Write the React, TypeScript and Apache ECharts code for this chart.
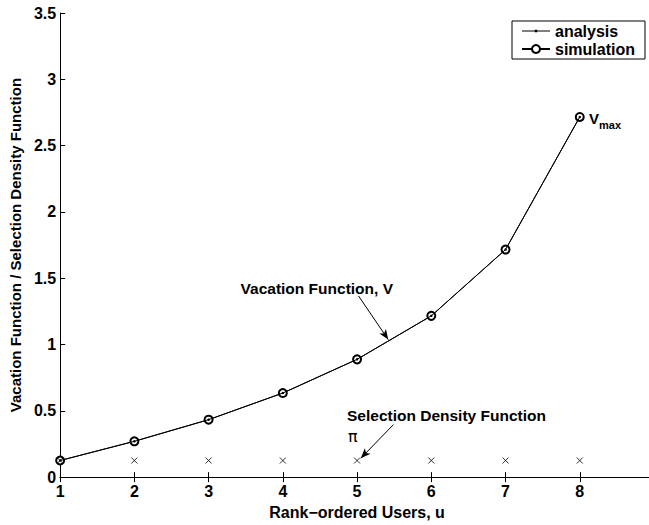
import React, { useEffect, useRef } from "react";
import * as echarts from "echarts";

const users = [1, 2, 3, 4, 5, 6, 7, 8];
const vacationAnalysis = [0.125, 0.27, 0.433, 0.634, 0.888, 1.216, 1.716, 2.716];
const vacationSimulation = [0.125, 0.27, 0.433, 0.634, 0.888, 1.216, 1.716, 2.716];
const selectionDensity = [0.125, 0.125, 0.125, 0.125, 0.125, 0.125, 0.125, 0.125];

const FONT = "'Liberation Sans', Arial, Helvetica, sans-serif";

export default function App() {
  const ref = useRef<HTMLDivElement>(null);
  useEffect(() => {
    if (!ref.current) return;
    const chart = echarts.init(ref.current, null, { renderer: "svg" });
    const pair = (ys: number[]) => users.map((u, i) => [u, ys[i]]);
    const axisCommon = {
      axisLine: { show: true, lineStyle: { color: "#000", width: 1 } },
      axisTick: { show: true, inside: true, length: 5, lineStyle: { color: "#000" } },
      splitLine: { show: false },
    };
    const bold = (size: number) => ({ fontFamily: FONT, fontWeight: "bold", fontSize: size, color: "#000" });
    chart.setOption({
      animation: false,
      backgroundColor: "#fff",
      textStyle: { fontFamily: FONT },
      grid: { left: 57, top: 13, width: 597, height: 469 },
      legend: {
        left: 512,
        top: 21,
        orient: "vertical",
        data: [
          { name: "analysis", icon: "path://M0,4.4H28V5.6H0Z M12.8,3.8H15.2V6.2H12.8Z" },
          { name: "simulation" },
        ],
        itemWidth: 28,
        itemHeight: 10,
        itemGap: 2,
        padding: [2, 10, 2, 9],
        borderColor: "#000",
        borderWidth: 1,
        borderRadius: 0,
        backgroundColor: "#fff",
        textStyle: bold(16),
      },
      xAxis: [
        {
          type: "value",
          min: 1,
          max: 9,
          interval: 1,
          position: "bottom",
          name: "Rank\u2212ordered Users, u",
          nameLocation: "middle",
          nameGap: 19,
          nameTextStyle: bold(16),
          axisLabel: { ...bold(16), margin: 6 },
          ...axisCommon,
        },
        {
          type: "value",
          min: 1,
          max: 9,
          interval: 1,
          position: "top",
          axisLabel: { show: false },
          ...axisCommon,
        },
      ],
      yAxis: [
        {
          type: "value",
          min: 0,
          max: 3.5,
          interval: 0.5,
          position: "left",
          name: "Vacation Function / Selection Density Function",
          nameLocation: "middle",
          nameGap: 30,
          nameTextStyle: bold(15),
          axisLabel: { ...bold(16), margin: 4 },
          ...axisCommon,
        },
        {
          type: "value",
          min: 0,
          max: 3.5,
          interval: 0.5,
          position: "right",
          axisLabel: { show: false },
          ...axisCommon,
        },
      ],
      series: [
        {
          name: "simulation",
          type: "line",
          data: pair(vacationSimulation),
          symbol: "emptyCircle",
          symbolSize: 8,
          itemStyle: { color: "#000", borderColor: "#000", borderWidth: 1 },
          lineStyle: { color: "#000", width: 1 },
          z: 3,
        },
        {
          name: "analysis",
          type: "line",
          data: pair(vacationAnalysis),
          symbol: "circle",
          symbolSize: 2.5,
          itemStyle: { color: "#000" },
          lineStyle: { color: "#000", width: 1 },
          z: 4,
          markLine: {
            silent: true,
            symbol: ["none", "arrow"],
            symbolSize: [6, 10],
            label: { show: false },
            lineStyle: { color: "#000", width: 1, type: "solid" },
            data: [
              [{ coord: [5.02, 1.366] }, { coord: [5.42, 1.037] }],
              [{ coord: [5.49, 0.396] }, { coord: [5.05, 0.142] }],
            ],
          },
        },
        {
          name: "pi",
          type: "scatter",
          data: pair(selectionDensity),
          symbol: "path://M0,0L10,10M10,0L0,10",
          symbolSize: 6,
          itemStyle: { color: "none", borderColor: "#000", borderWidth: 1 },
          z: 5,
        },
      ],
      graphic: [
        {
          type: "text",
          x: 393,
          y: 288,
          style: {
            text: "Vacation Function, V",
            fontFamily: FONT,
            fontWeight: "bold",
            fontSize: 15.5,
            fill: "#000",
            align: "right",
            verticalAlign: "middle",
          },
        },
        {
          type: "text",
          x: 347,
          y: 415,
          style: {
            text: "Selection Density Function",
            fontFamily: FONT,
            fontWeight: "bold",
            fontSize: 15.5,
            fill: "#000",
            verticalAlign: "middle",
          },
        },
        {
          type: "text",
          x: 348,
          y: 436,
          style: {
            text: "\u03c0",
            fontFamily: "'DejaVu Sans', sans-serif",
            fontSize: 16,
            fill: "#000000",
            verticalAlign: "middle",
          },
        },
        {
          type: "text",
          x: 589,
          y: 118,
          style: { text: "V", fontFamily: FONT, fontWeight: "bold", fontSize: 15, fill: "#000", verticalAlign: "middle" },
        },
        {
          type: "text",
          x: 599,
          y: 125,
          style: { text: "max", fontFamily: FONT, fontWeight: "bold", fontSize: 11, fill: "#000", verticalAlign: "middle" },
        },
      ],
    });
    return () => chart.dispose();
  }, []);
  return (
    <div style={{ position: "absolute", left: 0, top: 0, width: 649, height: 525, overflow: "hidden", background: "#fff" }}>
      <div ref={ref} style={{ position: "absolute", left: 0, top: 0, width: 680, height: 525 }} />
    </div>
  );
}
